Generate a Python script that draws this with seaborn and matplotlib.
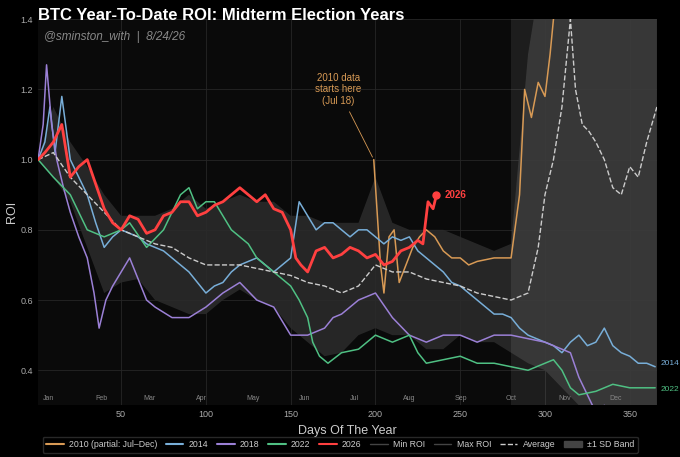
import numpy as np
import pandas as pd
import seaborn as sns
import matplotlib
matplotlib.use("Agg")
import matplotlib.pyplot as plt
from matplotlib.lines import Line2D
from matplotlib.patches import Patch

d2026 = [1,5,10,15,20,25,30,35,40,45,50,55,60,65,70,75,80,85,90,95,100,105,110,115,120,125,130,135,140,145,150,153,156,160,165,170,175,180,185,190,195,200,205,210,215,220,225,228,231,234,236]
v2026 = [1.0,1.02,1.05,1.1,0.95,0.98,1.0,0.93,0.86,0.82,0.8,0.84,0.83,0.79,0.8,0.84,0.85,0.88,0.88,0.84,0.85,0.87,0.88,0.9,0.92,0.9,0.88,0.9,0.86,0.85,0.8,0.72,0.7,0.68,0.74,0.75,0.72,0.73,0.75,0.74,0.72,0.73,0.7,0.71,0.74,0.75,0.77,0.76,0.88,0.86,0.9]
d2014 = [1,5,8,11,15,20,25,30,35,40,45,50,55,60,65,70,75,80,85,90,95,100,105,110,115,120,125,130,135,140,145,150,155,160,165,170,175,180,185,190,195,200,205,210,215,220,225,230,235,240,245,250,255,260,265,270,275,280,285,290,295,300,305,310,315,320,325,330,335,340,345,350,355,360,365]
v2014 = [1.0,1.05,1.15,1.02,1.18,1.0,0.95,0.9,0.82,0.75,0.78,0.8,0.79,0.78,0.76,0.75,0.74,0.72,0.7,0.68,0.65,0.62,0.64,0.65,0.68,0.7,0.71,0.72,0.7,0.68,0.7,0.72,0.88,0.84,0.8,0.82,0.82,0.8,0.78,0.8,0.8,0.78,0.76,0.78,0.77,0.78,0.74,0.72,0.7,0.68,0.65,0.64,0.62,0.6,0.58,0.56,0.56,0.55,0.52,0.5,0.49,0.48,0.47,0.45,0.48,0.5,0.47,0.48,0.52,0.47,0.45,0.44,0.42,0.42,0.41]
d2018 = [1,4,6,9,12,16,20,25,30,34,37,41,45,50,55,60,65,70,80,90,100,110,120,130,140,150,160,170,175,180,190,200,210,220,230,240,250,260,270,280,290,300,310,315,320,325,330,335,340,350,365]
v2018 = [1.0,1.1,1.27,1.1,1.0,0.92,0.85,0.78,0.72,0.62,0.52,0.6,0.64,0.68,0.72,0.66,0.6,0.58,0.55,0.55,0.58,0.62,0.65,0.6,0.58,0.5,0.5,0.52,0.55,0.56,0.6,0.62,0.55,0.5,0.48,0.5,0.5,0.48,0.5,0.5,0.49,0.48,0.46,0.45,0.38,0.33,0.28,0.3,0.27,0.25,0.24]
d2022 = [1,10,20,30,40,50,55,65,75,80,85,90,95,100,105,110,115,120,125,130,135,140,145,150,155,160,163,167,172,180,190,200,210,220,225,230,240,250,260,270,280,290,300,305,310,315,320,330,340,350,365]
v2022 = [1.0,0.95,0.9,0.8,0.78,0.8,0.82,0.75,0.8,0.85,0.9,0.92,0.86,0.88,0.88,0.84,0.8,0.78,0.76,0.72,0.7,0.68,0.66,0.64,0.6,0.55,0.48,0.44,0.42,0.45,0.46,0.5,0.48,0.5,0.45,0.42,0.43,0.44,0.42,0.42,0.41,0.4,0.42,0.43,0.4,0.35,0.33,0.34,0.36,0.35,0.35]
d2010 = [199,201,203,205,208,211,214,218,222,226,230,235,240,245,250,255,260,270,280,285,288,292,296,300,303,306,310,320,340,366]
v2010 = [1.0,0.85,0.7,0.62,0.78,0.8,0.65,0.7,0.75,0.78,0.8,0.78,0.74,0.72,0.72,0.7,0.71,0.72,0.72,0.9,1.2,1.12,1.22,1.18,1.3,1.45,1.6,1.9,2.2,2.5]
dAvg = [1,10,20,30,40,50,60,70,80,90,100,110,120,130,140,150,160,170,180,190,200,210,220,230,240,250,260,270,280,290,296,300,305,310,315,318,322,326,330,335,340,345,350,355,360,366]
vAvg = [1.0,1.02,0.95,0.9,0.85,0.8,0.78,0.76,0.75,0.72,0.7,0.7,0.7,0.69,0.68,0.67,0.65,0.64,0.62,0.64,0.7,0.68,0.68,0.66,0.65,0.64,0.62,0.61,0.6,0.62,0.75,0.9,1.0,1.15,1.4,1.2,1.1,1.08,1.05,1.0,0.92,0.9,0.98,0.95,1.05,1.15]
dBand = [1,10,20,30,40,50,60,70,80,90,100,110,120,130,140,150,160,170,180,190,200,210,220,230,240,250,260,270,280,290,300,310,320,330,340,350,366]
bLo = [1.0,0.95,0.88,0.75,0.62,0.65,0.66,0.6,0.58,0.56,0.56,0.6,0.63,0.6,0.58,0.52,0.48,0.44,0.45,0.5,0.52,0.5,0.5,0.46,0.46,0.5,0.48,0.48,0.45,0.42,0.4,0.35,0.3,0.28,0.27,0.26,0.25]
bHi = [1.0,1.15,1.05,0.98,0.9,0.84,0.84,0.84,0.86,0.9,0.86,0.88,0.9,0.88,0.88,0.84,0.84,0.82,0.82,0.82,0.95,0.82,0.8,0.8,0.8,0.78,0.76,0.74,0.76,1.3,1.6,1.8,1.9,2.0,2.0,2.0,2.0]
months = ["Jan","Feb","Mar","Apr","May","Jun","Jul","Aug","Sep","Oct","Nov","Dec"]
month_days = [1,32,60,91,121,152,182,213,244,274,305,335]

sns.set_theme(style="dark")
plt.rcParams['font.family'] = ['Liberation Sans', 'DejaVu Sans']
fig = plt.figure(figsize=(6.8,4.57), dpi=100, facecolor="black")
ax = fig.add_axes([0.056, 0.113, 0.91, 0.845])
ax.set_facecolor("#0a0a0a")

ax.fill_between(dBand, bLo, bHi, color="#2a2a2a", alpha=0.9, lw=0, zorder=1)
ax.axvspan(280, 366, color="#ffffff", alpha=0.08, lw=0, zorder=1)

series = [("2010 (partial: Jul\u2013Dec)", d2010, v2010, "#d89a55"),
          ("2014", d2014, v2014, "#78aed8"),
          ("2018", d2018, v2018, "#9b80d6"),
          ("2022", d2022, v2022, "#4fc083")]
for name, d, v, c in series:
    sns.lineplot(x=d, y=v, ax=ax, color=c, lw=1.1, zorder=3)
sns.lineplot(x=d2026, y=v2026, ax=ax, color="#ff4040", lw=2.0, zorder=4)
ax.plot(d2026[-1], v2026[-1], "o", color="#ff4040", ms=5, zorder=5)
sns.lineplot(x=dAvg, y=vAvg, ax=ax, color="#cccccc", lw=1.0, ls="--", zorder=3)

ax.text(241, 0.9, "2026", color="#ff4040", fontsize=7, fontweight="bold", va="center")
ax.text(368, 0.42, "2014", color="#78aed8", fontsize=6, va="center")
ax.text(368, 0.345, "2022", color="#4fc083", fontsize=6, va="center")
ax.annotate("2010 data\nstarts here\n(Jul 18)", xy=(199, 1.0), xytext=(178, 1.2),
            color="#d89a55", fontsize=7, ha="center", va="center",
            arrowprops=dict(arrowstyle="-", color="#d89a55", lw=0.6))

for m, d in zip(months, month_days):
    ax.text(d + 3, 0.315, m, color="#888888", fontsize=5)

ax.set_xlim(1, 366)
ax.set_ylim(0.3, 1.4)
ax.set_xticks([50,100,150,200,250,300,350])
ax.set_yticks([0.4,0.6,0.8,1.0,1.2,1.4])
ax.set_yticklabels(["0.4","0.6","0.8","1.0","1.2","1.4"])
ax.tick_params(colors="#aaaaaa", labelsize=6.5, length=0)
ax.grid(True, color="#262626", lw=0.6)
ax.set_axisbelow(True)
for s in ax.spines.values():
    s.set_visible(False)
ax.set_xlabel("Days Of The Year", color="#cccccc", fontsize=9)
ax.set_ylabel("ROI", color="#cccccc", fontsize=9, labelpad=2)

fig.text(0.056, 0.965, "BTC Year-To-Date ROI: Midterm Election Years", color="white",
         fontsize=12, fontweight="bold", va="center")
ax.text(0.01, 0.97, "@sminston_with  |  8/24/26", transform=ax.transAxes, color="#888888",
        fontsize=8.5, style="italic", va="top")

handles = [Line2D([], [], color=c, lw=1.5) for _, _, _, c in series]
handles += [Line2D([], [], color="#ff4040", lw=1.5),
            Line2D([], [], color="#444444", lw=1),
            Line2D([], [], color="#444444", lw=1),
            Line2D([], [], color="#cccccc", lw=1, ls="--"),
            Patch(color="#444444")]
labels = [s[0] for s in series] + ["2026", "Min ROI", "Max ROI", "Average", "\u00b11 SD Band"]
leg = fig.legend(handles, labels, loc="lower center", bbox_to_anchor=(0.5, 0.0), ncol=9,
                 fontsize=6.3, frameon=True, facecolor="black", edgecolor="#333333",
                 labelcolor="#cccccc", handlelength=2, columnspacing=1.0, handletextpad=0.6)
fig.savefig("out.png", dpi=100, facecolor="black")
